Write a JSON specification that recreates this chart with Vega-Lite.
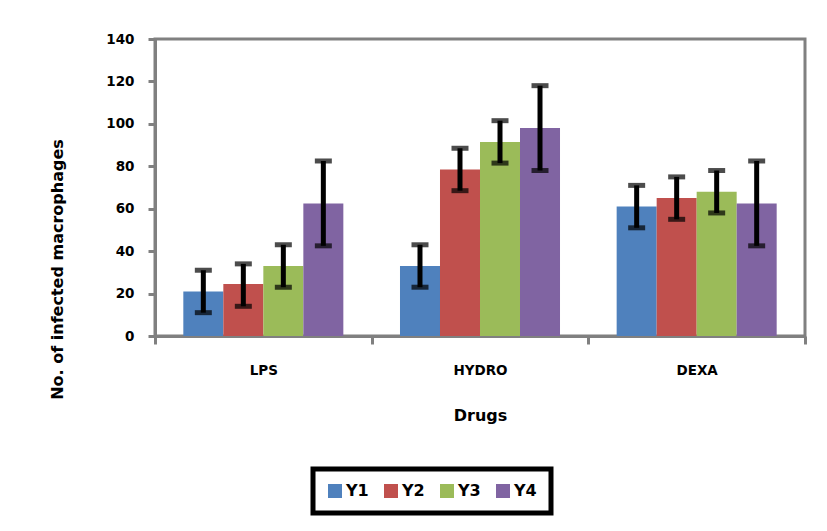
{
  "$schema": "https://vega.github.io/schema/vega-lite/v6.json",
  "autosize": {"type": "none"},
  "width": 650,
  "height": 297,
  "padding": {"left": 155, "top": 39, "right": 22, "bottom": 195},
  "background": "white",
  "config": {
    "font": "DejaVu Sans",
    "view": {"stroke": "#808080", "strokeWidth": 3},
    "legend": {"strokeColor": "#000000", "strokeWidth": 5},
    "axis": {
      "domainColor": "#808080", "domainWidth": 3,
      "tickColor": "#808080", "tickWidth": 3, "tickSize": 7,
      "grid": false,
      "labelFont": "DejaVu Sans", "labelFontWeight": "bold", "labelFontSize": 13.5, "labelColor": "#000000",
      "titleFont": "DejaVu Sans", "titleFontWeight": "bold", "titleFontSize": 16, "titleColor": "#000000"
    }
  },
  "data": {
    "values": [
      {"drug": "LPS", "year": "Y1", "value": 21, "lo": 11, "hi": 31},
      {"drug": "LPS", "year": "Y2", "value": 24.5, "lo": 14, "hi": 34},
      {"drug": "LPS", "year": "Y3", "value": 33, "lo": 23, "hi": 43},
      {"drug": "LPS", "year": "Y4", "value": 62.5, "lo": 42.5, "hi": 82.5},
      {"drug": "HYDRO", "year": "Y1", "value": 33, "lo": 23, "hi": 43},
      {"drug": "HYDRO", "year": "Y2", "value": 78.5, "lo": 68.5, "hi": 88.5},
      {"drug": "HYDRO", "year": "Y3", "value": 91.5, "lo": 81.5, "hi": 101.5},
      {"drug": "HYDRO", "year": "Y4", "value": 98, "lo": 78, "hi": 118},
      {"drug": "DEXA", "year": "Y1", "value": 61, "lo": 51, "hi": 71},
      {"drug": "DEXA", "year": "Y2", "value": 65, "lo": 55, "hi": 75},
      {"drug": "DEXA", "year": "Y3", "value": 68, "lo": 58, "hi": 78},
      {"drug": "DEXA", "year": "Y4", "value": 62.5, "lo": 42.5, "hi": 82.5}
    ]
  },
  "encoding": {
    "x": {
      "field": "drug", "type": "nominal", "sort": ["LPS", "HYDRO", "DEXA"],
      "scale": {"paddingInner": 0, "paddingOuter": 0},
      "axis": {"title": "Drugs", "labelAngle": 0, "labelPadding": 19, "titlePadding": 31, "tickBand": "extent", "tickSize": 8}
    },
    "xOffset": {"field": "year", "type": "nominal", "sort": ["Y1", "Y2", "Y3", "Y4"], "scale": {"paddingInner": 0, "paddingOuter": 0.708}}
  },
  "layer": [
    {
      "mark": {"type": "bar"},
      "encoding": {
        "y": {
          "field": "value", "type": "quantitative",
          "scale": {"domain": [0, 140], "nice": false},
          "axis": {"title": "No. of infected macrophages", "values": [0, 20, 40, 60, 80, 100, 120, 140], "labelPadding": 14, "titleX": -90, "titleY": 230, "titleAlign": "center"}
        },
        "color": {
          "field": "year", "type": "nominal", "sort": ["Y1", "Y2", "Y3", "Y4"],
          "scale": {"domain": ["Y1", "Y2", "Y3", "Y4"], "range": ["#4F81BD", "#C0504D", "#9BBB59", "#8064A2"]},
          "legend": {
            "title": null, "orient": "none", "direction": "horizontal", "columns": 4,
            "legendX": 158, "legendY": 430,
            "padding": 14,
            "symbolType": "square", "symbolSize": 196, "symbolStrokeWidth": 0,
            "labelFontSize": 16, "labelFontWeight": "bold", "labelFont": "DejaVu Sans", "labelColor": "#000000",
            "labelOffset": 3, "columnPadding": 14
          }
        }
      }
    },
    {
      "mark": {"type": "rule", "color": "#000000", "strokeWidth": 5},
      "encoding": {
        "y": {"field": "lo", "type": "quantitative"},
        "y2": {"field": "hi"}
      }
    },
    {
      "mark": {"type": "tick", "color": "#000000", "thickness": 5, "size": 17},
      "encoding": {"y": {"field": "lo", "type": "quantitative"}}
    },
    {
      "mark": {"type": "tick", "color": "#000000", "thickness": 5, "size": 17},
      "encoding": {"y": {"field": "hi", "type": "quantitative"}}
    }
  ]
}
